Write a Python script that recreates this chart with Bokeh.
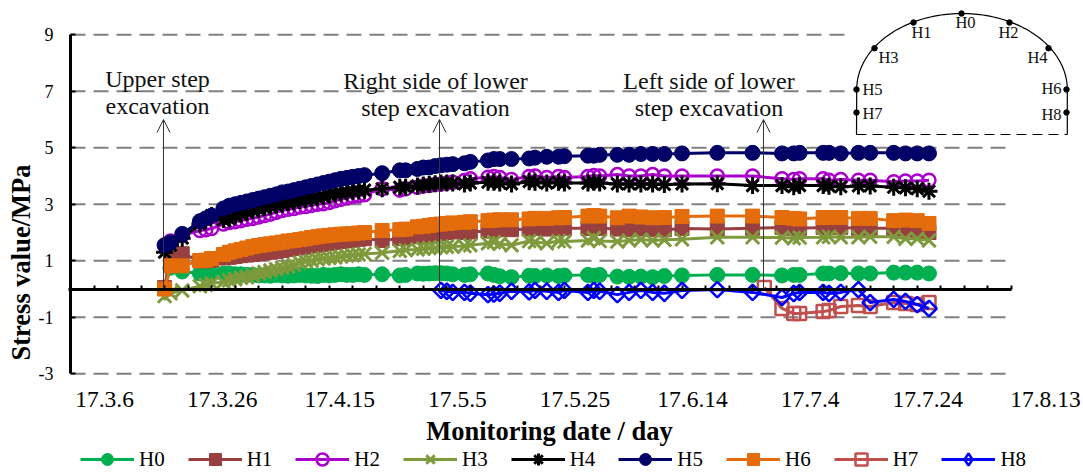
import numpy as np
from bokeh.plotting import figure
from bokeh.embed import file_html
from bokeh.resources import INLINE
from bokeh.core.properties import value
from bokeh.models import (Range1d, FixedTicker, LinearAxis, Legend, LegendItem,
                          Arrow, OpenHead)

days = [16, 17, 19, 22, 23, 24,
        26, 27, 28, 29, 30, 31, 32, 33, 34, 35, 36, 37, 38, 39, 40, 41, 42, 43, 44, 45, 46, 47, 48, 49, 50,
        53, 56, 57, 59, 60, 61, 62, 63, 64, 65,
        67, 68, 71, 72, 73, 75, 78, 79, 81, 83,
        84, 88, 89, 90, 93, 95, 97, 99, 101, 104,
        110, 116, 121, 123, 124, 128, 129, 131, 134, 136,
        140, 142, 144, 146]

H0 = [0.00, 0.75, 0.62, 0.55, 0.55, 0.55,
      0.55, 0.55, 0.52, 0.52, 0.50, 0.50, 0.48, 0.48, 0.47, 0.50, 0.48, 0.47, 0.48, 0.50, 0.48, 0.47, 0.46, 0.50, 0.48, 0.50, 0.52, 0.50, 0.50, 0.52, 0.50,
      0.52, 0.48, 0.50, 0.55, 0.54, 0.55, 0.56, 0.56, 0.55, 0.52,
      0.50, 0.52, 0.55, 0.50, 0.45, 0.42, 0.47, 0.46, 0.48, 0.46,
      0.48, 0.50, 0.47, 0.50, 0.44, 0.43, 0.44, 0.42, 0.46, 0.48,
      0.50, 0.50, 0.48, 0.50, 0.50, 0.55, 0.55, 0.56, 0.55, 0.55,
      0.58, 0.58, 0.58, 0.55]
H1 = [0.05, 1.25, 1.25, 1.00, 1.00, 1.02,
      1.10, 1.12, 1.15, 1.18, 1.20, 1.22, 1.25, 1.28, 1.30, 1.33, 1.36, 1.40, 1.43, 1.45, 1.48, 1.52, 1.55, 1.58, 1.60, 1.65, 1.68, 1.70, 1.73, 1.76, 1.78,
      1.72, 1.78, 1.80, 1.85, 1.88, 1.90, 1.92, 1.96, 2.00, 2.02,
      2.00, 2.02, 2.05, 2.08, 2.10, 2.10, 2.12, 2.14, 2.12, 2.14,
      2.15, 2.15, 2.14, 2.15, 2.12, 2.10, 2.12, 2.10, 2.10, 2.14,
      2.12, 2.15, 2.18, 2.14, 2.15, 2.18, 2.18, 2.18, 2.15, 2.15,
      2.15, 2.12, 2.05, 2.00]
H2 = [1.55, 1.70, 1.90, 2.07, 2.10, 2.14,
      2.30, 2.35, 2.38, 2.42, 2.47, 2.50, 2.55, 2.60, 2.65, 2.72, 2.78, 2.82, 2.85, 2.90, 2.92, 2.96, 3.00, 3.02, 3.06, 3.12, 3.18, 3.22, 3.27, 3.30, 3.34,
      3.55, 3.50, 3.55, 3.60, 3.65, 3.66, 3.70, 3.72, 3.75, 3.78,
      3.84, 3.90, 3.96, 3.98, 3.95, 3.88, 3.98, 4.00, 3.95, 3.98,
      3.95, 3.98, 4.02, 4.00, 4.05, 4.00, 4.00, 4.05, 4.00, 4.00,
      4.00, 4.00, 3.90, 3.88, 3.90, 3.90, 3.85, 3.88, 3.85, 3.85,
      3.80, 3.82, 3.82, 3.85]
H3 = [-0.25, -0.15, -0.05, 0.10, 0.15, 0.20,
      0.25, 0.30, 0.35, 0.40, 0.42, 0.48, 0.55, 0.60, 0.65, 0.70, 0.75, 0.80, 0.85, 0.94, 0.98, 1.00, 1.05, 1.08, 1.10, 1.12, 1.15, 1.18, 1.20, 1.22, 1.24,
      1.28, 1.35, 1.38, 1.40, 1.43, 1.45, 1.45, 1.48, 1.50, 1.50,
      1.52, 1.55, 1.62, 1.66, 1.60, 1.55, 1.70, 1.66, 1.62, 1.70,
      1.68, 1.72, 1.80, 1.70, 1.68, 1.72, 1.75, 1.72, 1.74, 1.76,
      1.83, 1.83, 1.82, 1.80, 1.82, 1.83, 1.85, 1.83, 1.83, 1.85,
      1.85, 1.78, 1.78, 1.72]
H4 = [1.30, 1.55, 1.80, 2.30, 2.45, 2.60,
      2.45, 2.48, 2.60, 2.65, 2.72, 2.78, 2.82, 2.88, 2.92, 2.96, 3.00, 3.05, 3.08, 3.13, 3.16, 3.20, 3.23, 3.28, 3.33, 3.37, 3.40, 3.43, 3.46, 3.48, 3.50,
      3.55, 3.60, 3.60, 3.65, 3.68, 3.70, 3.73, 3.75, 3.75, 3.75,
      3.72, 3.75, 3.78, 3.78, 3.75, 3.72, 3.80, 3.78, 3.75, 3.78,
      3.75, 3.75, 3.78, 3.75, 3.72, 3.72, 3.72, 3.72, 3.70, 3.72,
      3.73, 3.66, 3.66, 3.62, 3.66, 3.66, 3.64, 3.62, 3.65, 3.65,
      3.60, 3.58, 3.55, 3.46]
H5 = [1.55, 1.65, 1.95, 2.40, 2.50, 2.60,
      2.85, 2.95, 3.00, 3.05, 3.10, 3.15, 3.20, 3.25, 3.30, 3.35, 3.42, 3.45, 3.50, 3.55, 3.60, 3.65, 3.70, 3.75, 3.80, 3.85, 3.90, 3.93, 3.97, 4.00, 4.03,
      4.10, 4.20, 4.20, 4.25, 4.30, 4.30, 4.35, 4.38, 4.40, 4.42,
      4.45, 4.50, 4.55, 4.60, 4.60, 4.60, 4.62, 4.65, 4.68, 4.68,
      4.70, 4.72, 4.72, 4.75, 4.75, 4.75, 4.78, 4.78, 4.78, 4.80,
      4.82, 4.82, 4.80, 4.80, 4.82, 4.82, 4.82, 4.80, 4.82, 4.82,
      4.82, 4.80, 4.80, 4.80]
H6 = [0.00, 0.82, 0.82, 1.00, 1.02, 1.08,
      1.22, 1.30, 1.35, 1.40, 1.45, 1.50, 1.54, 1.57, 1.60, 1.63, 1.66, 1.70, 1.72, 1.75, 1.78, 1.82, 1.85, 1.88, 1.90, 1.92, 1.94, 1.95, 1.96, 1.98, 2.00,
      2.07, 2.10, 2.12, 2.20, 2.22, 2.25, 2.28, 2.30, 2.32, 2.34,
      2.36, 2.38, 2.42, 2.44, 2.45, 2.45, 2.48, 2.50, 2.50, 2.52,
      2.53, 2.58, 2.60, 2.58, 2.52, 2.58, 2.55, 2.52, 2.53, 2.57,
      2.58, 2.58, 2.53, 2.50, 2.48, 2.53, 2.53, 2.53, 2.50, 2.50,
      2.42, 2.44, 2.42, 2.32]
days_H7 = [118, 121, 123, 124, 128, 129, 131, 134, 136, 140, 142, 144, 146]
H7 = [0.05, -0.69, -0.87, -0.87, -0.80, -0.76, -0.62, -0.58, -0.62, -0.48, -0.51, -0.55, -0.48]
days_H8 = days[days.index(63):]
H8 = [-0.05, -0.08, -0.12,
      -0.12, -0.15, -0.20, -0.18, -0.15, -0.08, -0.10, -0.05, -0.08, -0.12,
      -0.05, -0.12, -0.05, -0.08, -0.20, -0.12, -0.05, -0.12, -0.15, -0.05,
      -0.02, -0.12, -0.30, -0.16, -0.12, -0.12, -0.16, -0.12, -0.02, -0.48,
      -0.37, -0.44, -0.55, -0.69]

tick_days = [5.8, 25.8, 45.8, 65.8, 85.8, 105.8, 125.8, 145.8, 165.8]
tick_labels = ["17.3.6", "17.3.26", "17.4.15", "17.5.5", "17.5.25", "17.6.14", "17.7.4", "17.7.24", "17.8.13"]
y_ticks = [-3, -1, 1, 3, 5, 7, 9]
y_tick_labels = ["-3", "-1", "1", "3", "5", "7", "9"]
minor_day_ticks = list(range(0, 161, 4))

SERIF = "Liberation Serif"

W, H = 1083, 472
p = figure(frame_width=W, frame_height=H, output_backend="svg", toolbar_location=None,
           x_range=Range1d(-70 / 5.88, (W - 70) / 5.88), y_range=Range1d((288.5 - H) / 28.25, 288.5 / 28.25),
           min_border_left=0, min_border_right=0, min_border_top=0, min_border_bottom=0,
           background_fill_color="white", border_fill_color="white", outline_line_color=None)
p.extra_x_ranges["px"] = Range1d(0, W)
p.extra_y_ranges["py"] = Range1d(H, 0)

# axes
yax = p.yaxis[0]
yax.fixed_location = 0
yax.ticker = FixedTicker(ticks=y_ticks)
yax.major_label_overrides = dict(zip(y_ticks, y_tick_labels))
yax.bounds = (-3, 9)
yax.axis_line_width = 3
yax.axis_line_color = "black"
yax.major_tick_in = 5
yax.major_tick_out = 0
yax.major_tick_line_width = 2
yax.minor_tick_line_color = None
yax.major_label_standoff = 17
yax.major_label_text_font = SERIF
yax.major_label_text_font_size = "18px"
yax.major_label_text_color = "black"

xax = p.xaxis[0]
xax.fixed_location = 0
xax.ticker = FixedTicker(ticks=minor_day_ticks)
xax.bounds = (-0.3, 160)
xax.axis_line_width = 3
xax.axis_line_color = "black"
xax.major_tick_in = 4
xax.major_tick_out = 0
xax.major_tick_line_width = 2
xax.minor_tick_line_color = None
xax.major_label_text_color = None
xax.major_label_text_font_size = "0px"

lab = LinearAxis(fixed_location=-3, ticker=FixedTicker(ticks=tick_days),
                 major_label_overrides=dict(zip(tick_days, tick_labels)),
                 axis_line_color=None, major_tick_line_color=None,
                 minor_tick_line_color=None, major_tick_in=0, major_tick_out=0,
                 major_label_standoff=18, major_label_text_font=SERIF,
                 major_label_text_font_size="23.5px", major_label_text_color="black")
p.add_layout(lab, "below")

# grid: dashes stop at the last date of the axis
p.xgrid.visible = False
p.ygrid.visible = False
p.segment(x0=[0] * len(y_ticks), x1=[160] * len(y_ticks), y0=y_ticks, y1=y_ticks,
          line_color="#808080", line_width=2, line_dash="15 8", level="underlay")

# series
series = [
    ("H0", days, H0, "#00B050", "circle", 15, None),
    ("H1", days, H1, "#984040", "square", 14, None),
    ("H2", days, H2, "#AA00CC", "circle", 13, 2.5),
    ("H3", days, H3, "#7F9A3C", "x", 19, 3),
    ("H4", days, H4, "#000000", "asterisk", 17, 3),
    ("H5", days, H5, "#000066", "circle", 15, None),
    ("H6", days, H6, "#E46C0A", "square", 14, None),
    ("H7", days_H7, H7, "#C0504D", "square", 13, 2.5),
    ("H8", days_H8, H8, "#0000FF", "square", 11, 2.5),
]
items = []
for name, xs, ys, col, mk, size, lw in series:
    ln = p.line(xs, ys, line_color=col, line_width=3)
    kw = dict(marker=mk, size=size, line_color=col)
    if lw is None:
        kw.update(fill_color=col, line_width=1)
    else:
        kw.update(fill_color=None, line_width=lw)
    if name == "H8":
        kw["angle"] = np.pi / 4
    sc = p.scatter(xs, ys, **kw)
    if name == "H8":
        sc_leg = p.scatter([np.nan], [np.nan], marker="diamond", size=12, line_color=col, fill_color=None, line_width=2.5)
        items.append(LegendItem(label=name, renderers=[ln, sc_leg]))
    else:
        items.append(LegendItem(label=name, renderers=[ln, sc]))

legend = Legend(items=items, orientation="horizontal", location=(80, -2),
                glyph_width=54, glyph_height=30, label_standoff=5, spacing=23,
                padding=0, margin=0, border_line_color=None, background_fill_color=None,
                label_text_font=SERIF, label_text_font_size="21px", label_text_color="black")
p.add_layout(legend)

# inset mask + tunnel section
p.quad(left=[850], right=[W], top=[0], bottom=[136], fill_color="white", line_color=None,
       x_range_name="px", y_range_name="py")
theta = np.linspace(0, np.pi, 120)
ax = 961.5 - 105.3 * np.cos(theta)
ay = 89 - 76 * np.sin(theta)
wx = np.concatenate([[856], ax, [1066.8]])
wy = np.concatenate([[134], ay, [134]])
p.line(wx, wy, line_color="black", line_width=1.2, x_range_name="px", y_range_name="py")
p.line([856, 1066.8], [134, 134], line_color="black", line_width=1.2, line_dash="10 6",
       x_range_name="px", y_range_name="py")
dot_x = [961, 913, 1009, 874, 1048, 856, 1066, 856, 1066]
dot_y = [13, 22, 22, 47.7, 47.7, 89, 89, 112, 112]
p.scatter(dot_x, dot_y, marker="circle", size=5.5, color="black", x_range_name="px", y_range_name="py")
pt_names = ["H0", "H1", "H2", "H3", "H4", "H5", "H6", "H7", "H8"]
pt_x = [965, 921, 1008, 888, 1037, 872, 1051, 872, 1051]
pt_y = [22, 32, 32, 57, 57, 89, 88, 113, 114]
p.text(pt_x, pt_y, text=pt_names, text_font=value(SERIF), text_font_size="16.5px", text_color="#111111",
       text_align="center", text_baseline="middle", x_range_name="px", y_range_name="py")

# annotations
ann_text = ["Upper step", "excavation", "Right side of lower", "step excavation", "Left side of lower", "step excavation"]
ann_x = [157, 157, 435, 435, 708.5, 708.5]
ann_y = [78, 105, 80, 107, 80, 107]
p.text(ann_x, ann_y, text=ann_text, text_font=value(SERIF), text_font_size="24px", text_color="#111111",
       text_align="center", text_baseline="middle", x_range_name="px", y_range_name="py")
for ax_px in [163, 439, 763]:
    p.add_layout(Arrow(end=OpenHead(size=13, line_width=1, line_color="#333333"),
                       x_start=ax_px, x_end=ax_px, y_start=288, y_end=119,
                       line_width=1, line_color="#333333",
                       x_range_name="px", y_range_name="py"))

# axis titles
p.text([549], [430], text=["Monitoring date / day"], text_font=value(SERIF), text_font_size="26.5px",
       text_font_style="bold", text_color="black", text_align="center", text_baseline="middle",
       x_range_name="px", y_range_name="py")
p.text([20], [262], text=["Stress value/MPa"], angle=np.pi / 2, text_font=value(SERIF), text_font_size="26.5px",
       text_font_style="bold", text_color="black", text_align="center", text_baseline="middle",
       x_range_name="px", y_range_name="py")

open("out.html", "w").write(file_html(p, INLINE))
